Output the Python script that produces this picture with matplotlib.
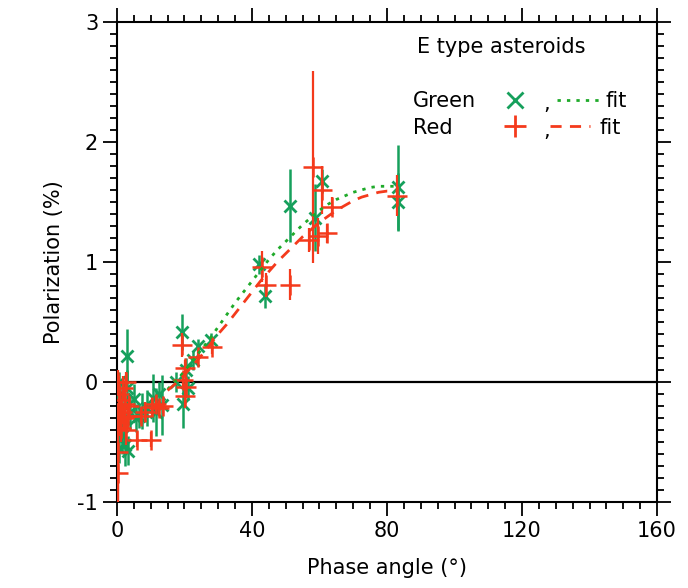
import matplotlib
matplotlib.use("Agg")
import matplotlib.pyplot as plt
from matplotlib.ticker import MultipleLocator

plt.rcParams['font.family'] = ['DejaVu Sans']
plt.rcParams['axes.unicode_minus'] = False

# ---- data ----
green_x = [0.5, 0.8, 1.0, 1.2, 0.7, 1.5, 2.0, 2.5, 2.9, 3.0, 3.4, 4.0, 5.0, 5.5, 6.5,
           7.5, 9.0, 10.8, 11.5, 13.2, 12.5, 17.5, 19.2, 19.7, 20.5, 21.0, 22.5, 24.1,
           28.0, 42.0, 44.0, 51.3, 58.7, 60.8, 83.2, 83.2]
green_y = [0.00, -0.10, -0.22, -0.35, -0.55, -0.45, -0.30, -0.52, 0.22, -0.05, -0.57,
           -0.25, -0.14, -0.30, -0.28, -0.24, -0.22, -0.13, -0.25, -0.19, -0.10, 0.00,
           0.42, -0.18, 0.10, -0.05, 0.18, 0.30, 0.35, 0.98, 0.72, 1.47, 1.37, 1.67,
           1.62, 1.50]
green_err = [0.08, 0.10, 0.12, 0.15, 0.12, 0.15, 0.20, 0.18, 0.22, 0.15, 0.12, 0.15,
             0.12, 0.12, 0.10, 0.15, 0.15, 0.20, 0.20, 0.25, 0.10, 0.08, 0.15, 0.20,
             0.10, 0.10, 0.08, 0.06, 0.06, 0.08, 0.10, 0.30, 0.28, 0.10, 0.35, 0.24]

red_x = [0.4, 0.2, 0.3, 0.5, 0.6, 0.8, 1.0, 1.2, 1.5, 1.8, 2.0, 2.3, 2.6, 2.8, 3.2,
         3.5, 5.8, 7.0, 8.3, 10.0, 10.3, 11.5, 12.5, 13.5, 19.2, 19.7, 20.1, 20.1,
         20.5, 24.1, 28.1, 42.9, 44.3, 51.3, 57.0, 58.2, 59.5, 60.8, 62.1, 63.6, 83.0]
red_y = [-0.76, -0.58, 0.00, -0.10, -0.22, -0.30, -0.15, -0.38, -0.25, -0.05, -0.30,
         -0.18, 0.00, -0.40, -0.28, -0.20, -0.48, -0.28, -0.25, -0.48, -0.21, -0.18,
         -0.22, -0.20, 0.31, 0.02, 0.12, -0.12, -0.04, 0.21, 0.29, 0.96, 0.81, 0.81,
         1.18, 1.79, 1.22, 1.60, 1.24, 1.46, 1.55]
red_err = [0.27, 0.40, 0.10, 0.15, 0.20, 0.15, 0.10, 0.12, 0.10, 0.10, 0.10, 0.12,
           0.08, 0.12, 0.10, 0.08, 0.06, 0.06, 0.08, 0.06, 0.08, 0.06, 0.06, 0.06,
           0.10, 0.06, 0.06, 0.10, 0.08, 0.06, 0.06, 0.13, 0.10, 0.13, 0.10, 0.80,
           0.15, 0.20, 0.08, 0.08, 0.17]

fit_x = [15, 17.5, 20, 22.5, 25, 27.5, 30, 32.5, 35, 37.5, 40, 42.5, 45, 47.5, 50,
         52.5, 55, 57.5, 60, 62.5, 65, 67.5, 70, 72.5, 75, 77.5, 80, 83]
green_fit = [-0.06, 0.01, 0.09, 0.18, 0.27, 0.36, 0.46, 0.56, 0.66, 0.75, 0.84, 0.93,
             1.02, 1.10, 1.17, 1.24, 1.31, 1.37, 1.43, 1.48, 1.52, 1.55, 1.58, 1.60,
             1.62, 1.63, 1.63, 1.63]
red_fit = [-0.07, -0.01, 0.06, 0.14, 0.22, 0.31, 0.40, 0.48, 0.57, 0.66, 0.75, 0.84,
           0.92, 1.00, 1.07, 1.14, 1.21, 1.27, 1.33, 1.38, 1.43, 1.47, 1.51, 1.54,
           1.56, 1.58, 1.59, 1.59]

x_ticks = [0, 40, 80, 120, 160]
y_ticks = [-1, 0, 1, 2, 3]

GREEN = "#16a05c"
GREEN_FIT = "#1faa2a"
RED = "#f43a1c"

fig = plt.figure(figsize=(6.88, 5.88), dpi=100)
ax = fig.add_axes([0.170, 0.146, 0.785, 0.817])

ax.axhline(0, color='black', lw=1.6, zorder=1)

ax.errorbar(green_x, green_y, yerr=green_err, fmt='x', color=GREEN, ms=9, mew=2.0,
            elinewidth=1.8, capsize=0, zorder=3)
ax.errorbar(red_x, red_y, yerr=red_err, fmt='+', color=RED, ms=14, mew=1.8,
            elinewidth=1.6, capsize=0, zorder=4)

ax.plot(fit_x, green_fit, color=GREEN_FIT, lw=2.0, ls=(0, (1.2, 2.2)), zorder=5)
ax.plot(fit_x, red_fit, color=RED, lw=2.0, ls=(0, (4, 3)), zorder=5)

ax.set_xlim(0, 160)
ax.set_ylim(-1, 3)
ax.set_xticks(x_ticks)
ax.set_yticks(y_ticks)
ax.xaxis.set_minor_locator(MultipleLocator(5))
ax.yaxis.set_minor_locator(MultipleLocator(0.1))
ax.tick_params(which='both', direction='out', top=True, right=True, labelsize=15,
               width=1.3, colors='black')
ax.tick_params(which='major', length=10)
ax.tick_params(which='minor', length=5)
for s in ax.spines.values():
    s.set_linewidth(1.5)

ax.set_xlabel("Phase angle (°)", fontsize=15, labelpad=12)
ax.set_ylabel("Polarization (%)", fontsize=15, labelpad=10)

# legend-like annotation
tr = ax.transAxes
fs = 15
ax.text(0.556, 0.948, "E type asteroids", transform=tr, fontsize=fs, va='center', ha='left')
ax.text(0.548, 0.835, "Green", transform=tr, fontsize=fs, va='center', ha='left')
ax.text(0.548, 0.779, "Red", transform=tr, fontsize=fs, va='center', ha='left')
ax.plot([0.737], [0.838], transform=tr, marker='x', color=GREEN, ms=11, mew=2, clip_on=False)
ax.plot([0.737], [0.783], transform=tr, marker='+', color=RED, ms=16, mew=2, clip_on=False)
ax.text(0.790, 0.828, ",", transform=tr, fontsize=fs, va='center', ha='left')
ax.text(0.790, 0.772, ",", transform=tr, fontsize=fs, va='center', ha='left')
ax.plot([0.815, 0.894], [0.838, 0.838], transform=tr, color=GREEN_FIT, lw=2,
        ls=(0, (1.2, 2.2)))
ax.plot([0.802, 0.876], [0.783, 0.783], transform=tr, color=RED, lw=2, ls=(0, (4, 3)))
ax.text(0.904, 0.835, "fit", transform=tr, fontsize=fs, va='center', ha='left')
ax.text(0.894, 0.779, "fit", transform=tr, fontsize=fs, va='center', ha='left')

fig.savefig("out.png", dpi=100)
